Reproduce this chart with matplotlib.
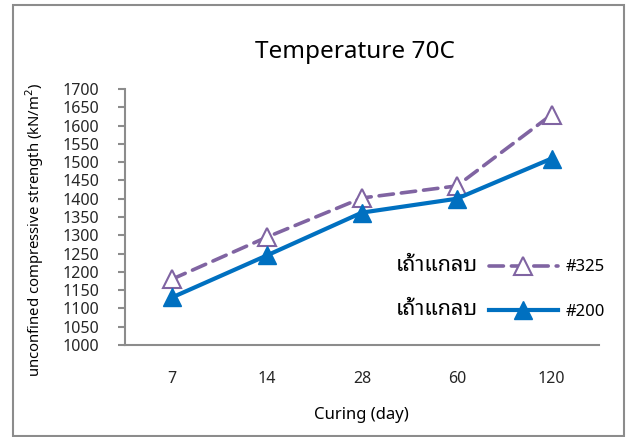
import matplotlib
matplotlib.use('Agg')
import matplotlib.pyplot as plt
from matplotlib import font_manager, ft2font
from matplotlib.patches import Rectangle

# data
days = ['7', '14', '28', '60', '120']
ash_325 = [1180, 1295, 1402, 1435, 1630]
ash_200 = [1130, 1245, 1362, 1400, 1510]
thai_name = 'เถ้าแกลบ'
labels = ['#325', '#200']


def find_thai_fonts():
    found = []
    for f in font_manager.fontManager.ttflist:
        try:
            if 0x0E40 in ft2font.FT2Font(f.fname).get_charmap():
                found.append(f.name)
        except Exception:
            pass
    return sorted(set(found))


thai_fonts = find_thai_fonts()
pref = [n for n in ['Noto Sans Thai Looped', 'IBM Plex Sans Thai Looped', 'Noto Sans Thai']
        if n in thai_fonts]
thai_family = (pref or thai_fonts)[:1] + ['Noto Sans', 'DejaVu Sans']

plt.rcParams['font.family'] = ['Noto Sans', 'DejaVu Sans']

fig = plt.figure(figsize=(6.27, 4.37), dpi=100)
# outer chart frame
fig.patches.append(Rectangle((13 / 627, 1 - 436 / 437), 611 / 627, 431 / 437,
                             transform=fig.transFigure, fill=False,
                             edgecolor='#8c8c8c', linewidth=1.5))
ax = fig.add_axes([0.1986, 0.2105, 0.757, 0.5858])

x = list(range(len(days)))
l1, = ax.plot(x, ash_325, color='#8064A2', linewidth=2.6, dashes=(4, 2.2),
              dash_capstyle='round', marker='^', markersize=13,
              markerfacecolor='white', markeredgecolor='#8064A2',
              markeredgewidth=1.5)
l2, = ax.plot(x, ash_200, color='#0070C0', linewidth=3, marker='^',
              markersize=13, markerfacecolor='#0070C0',
              markeredgecolor='#0070C0')

ax.set_xlim(-0.5, len(days) - 0.5)
ax.set_ylim(1000, 1700)
ax.set_yticks(range(1000, 1701, 50))
ax.set_xticks(x)
ax.set_xticklabels(days)
ax.tick_params(axis='x', length=0, pad=19, labelsize=11.5, colors='#262626')
ax.tick_params(axis='y', length=5, width=1.5, color='#8c8c8c', pad=13,
               labelsize=11.5, labelcolor='#262626')
for s in ['top', 'right']:
    ax.spines[s].set_visible(False)
for s in ['left', 'bottom']:
    ax.spines[s].set_color('#8c8c8c')
    ax.spines[s].set_linewidth(1.5)

ax.set_title('Temperature 70C', fontsize=17.5, pad=22, x=0.485)
ax.set_xlabel('Curing (day)', fontsize=12, labelpad=14)
ax.set_ylabel('unconfined compressive strength (kN/m$^2$)', fontsize=10.7)
ax.yaxis.set_label_coords(-0.165, 0.45)

leg = ax.legend([l1, l2], labels, loc='upper left',
                bbox_to_anchor=(0.737, 0.393), frameon=False, fontsize=12,
                handlelength=4.1, handletextpad=0.5, labelspacing=1.7)
for ypos in [0.3125, 0.137]:
    ax.text(0.745, ypos, thai_name, transform=ax.transAxes, ha='right',
            va='center', fontsize=15.5, family=thai_family)

fig.savefig('out.png', dpi=100)
